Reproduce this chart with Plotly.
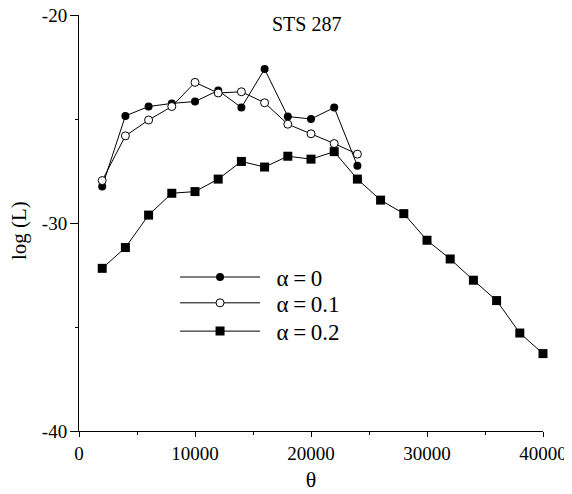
import plotly.graph_objects as go

theta_short = [2000, 4000, 6000, 8000, 10000, 12000, 14000, 16000, 18000, 20000, 22000, 24000]
theta_long = [2000, 4000, 6000, 8000, 10000, 12000, 14000, 16000, 18000, 20000,
              22000, 24000, 26000, 28000, 30000, 32000, 34000, 36000, 38000, 40000]
logL_a0 = [-28.25, -24.85, -24.40, -24.25, -24.16, -23.63, -24.45, -22.60, -24.88, -25.00, -24.45, -27.25]
logL_a01 = [-27.96, -25.81, -25.05, -24.40, -23.24, -23.75, -23.69, -24.22, -25.25, -25.71, -26.18, -26.69]
logL_a02 = [-32.18, -31.18, -29.62, -28.57, -28.49, -27.89, -27.04, -27.31, -26.79, -26.93,
            -26.57, -27.89, -28.90, -29.55, -30.83, -31.73, -32.75, -33.73, -35.29, -36.28]
series_names = ["\u2002α\u2009=\u20090", "\u2002α\u2009=\u20090.1", "\u2002α\u2009=\u20090.2"]
x_ticks = [0, 10000, 20000, 30000, 40000]
y_ticks = [-40, -30, -20]
title_text = "STS 287"
x_title = "θ"
y_title = "log (L)"

FONT = "Liberation Serif, Times New Roman, serif"

fig = go.Figure()
fig.add_trace(go.Scatter(x=theta_short, y=logL_a0, name=series_names[0], mode="lines+markers",
                         line=dict(color="black", width=1), legend="legend",
                         marker=dict(symbol="circle", size=8, color="black"), cliponaxis=False))
fig.add_trace(go.Scatter(x=theta_short, y=logL_a01, name=series_names[1], mode="lines+markers",
                         line=dict(color="black", width=1), legend="legend2",
                         marker=dict(symbol="circle", size=8, color="white", line=dict(color="black", width=1)),
                         cliponaxis=False))
fig.add_trace(go.Scatter(x=theta_long, y=logL_a02, name=series_names[2], mode="lines+markers",
                         line=dict(color="black", width=1), legend="legend3",
                         marker=dict(symbol="square", size=9, color="black"), cliponaxis=False))

def leg(y):
    return dict(x=0.207, y=y, xanchor="left", yanchor="middle", bgcolor="rgba(0,0,0,0)",
                font=dict(size=23, family=FONT), itemwidth=80, tracegroupgap=0)

fig.update_layout(
    width=562, height=484,
    margin=dict(l=71, r=27, t=7, b=61),
    plot_bgcolor="white", paper_bgcolor="white",
    font=dict(family=FONT, size=19, color="black"),
    showlegend=True,
    legend=leg(0.370), legend2=leg(0.308), legend3=leg(0.240),
    annotations=[
        dict(text=title_text, x=0.49, y=0.978, xref="paper", yref="paper",
             xanchor="center", yanchor="middle", showarrow=False,
             font=dict(size=20, family=FONT)),
        dict(text=y_title, x=-0.129, y=0.481, xref="paper", yref="paper",
             xanchor="center", yanchor="middle", showarrow=False, textangle=-90,
             font=dict(size=21, family=FONT)),
    ],
)
fig.update_xaxes(range=[0, 40000], tickvals=x_ticks, ticktext=[str(v) for v in x_ticks],
                 automargin=False, ticklabeloverflow="allow",
                 showline=True, linecolor="black", linewidth=1, showgrid=False, zeroline=False,
                 ticks="outside", ticklen=5, tickcolor="black",
                 minor=dict(dtick=5000, tick0=0, ticks="outside", ticklen=3, tickcolor="black", showgrid=False),
                 title=dict(text=x_title, font=dict(size=22, family=FONT), standoff=8))
fig.update_yaxes(range=[-40, -20], tickvals=y_ticks, ticktext=[str(v) for v in y_ticks],
                 automargin=False, ticklabelstandoff=-1, ticklabeloverflow="allow",
                 showline=True, linecolor="black", linewidth=1, showgrid=False, zeroline=False,
                 ticks="outside", ticklen=8, tickcolor="black",
                 minor=dict(dtick=5, tick0=-40, ticks="outside", ticklen=3, tickcolor="black", showgrid=False))

fig.write_html("out.html")
